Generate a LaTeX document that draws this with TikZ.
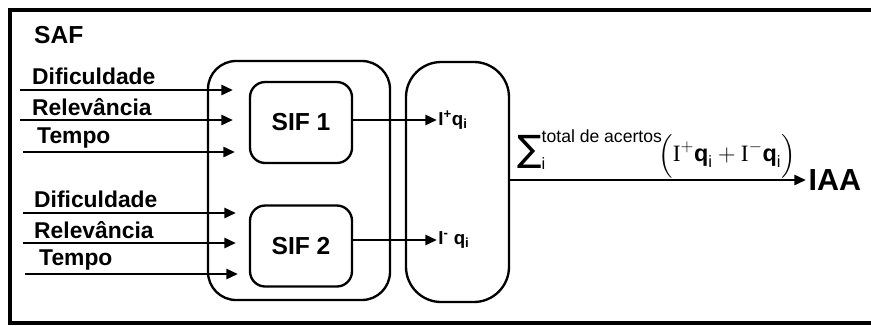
\documentclass[tikz,border=0pt]{standalone}
\usepackage{fontspec}
\setmainfont{Liberation Sans}
\newfontfamily\symbfont{DejaVu Sans}
\newfontfamily\serifI{Liberation Serif}
\usepackage{amsmath}
\usetikzlibrary{arrows.meta, positioning}

\begin{document}
\begin{tikzpicture}[x=0.03cm, y=-0.03cm,
  saframe/.style={line width=2.8pt},
  inarrow/.style={line width=2.4pt, -{Triangle[length=10pt, width=8.5pt]}},
  inlabel/.style={anchor=west, inner sep=0pt, font=\fontsize{19.5}{21}\selectfont\bfseries},
  sifbox/.style={draw, line width=2pt, rounded corners=13pt, minimum width=3.06cm, minimum height=2.43cm, font=\fontsize{21}{24}\selectfont\bfseries},
  sifgroup/.style={draw, line width=2pt, rounded corners=24pt, minimum width=5.46cm, minimum height=7.17cm},
  accbox/.style={draw, line width=2pt, rounded corners=30pt, minimum width=3.09cm, minimum height=7.2cm},
  qlabel/.style={anchor=west, inner sep=1pt, font=\fontsize{16}{17}\selectfont\bfseries}
]
  \useasboundingbox (0,0) rectangle (871,325);
  % moldura do SAF (aberta a direita)
  \draw[saframe] (880,10) -- (10,10) -- (10,323) -- (880,323);
  \node[anchor=west, inner sep=0pt, font=\fontsize{21}{24}\selectfont\bfseries] (saf) at (34,35) {SAF};

  \node[sifgroup] (grp) at (299,180.5) {};
  \node[accbox] (acc) at (457.5,182) {};
  \node[sifbox] (sif1) at (301,122.5) {SIF 1};
  \node[sifbox] (sif2) at (301,246) {SIF 2};

  % entradas do SIF 1
  \node[inlabel] (dif1) at (32,76) {Dificuldade};
  \node[inlabel] (rel1) at (32,107) {Relevância};
  \node[inlabel] (tmp1) at (37,138) {Tempo};
  \coordinate (a1) at (20,90);  \coordinate (b1) at (233,90);
  \coordinate (a2) at (20,120); \coordinate (b2) at (233,120);
  \coordinate (a3) at (23,152); \coordinate (b3) at (235,152);
  \draw[inarrow] (a1) -- (b1);
  \draw[inarrow] (a2) -- (b2);
  \draw[inarrow] (a3) -- (b3);

  % entradas do SIF 2
  \node[inlabel] (dif2) at (34,199) {Dificuldade};
  \node[inlabel] (rel2) at (34,230) {Relevância};
  \node[inlabel] (tmp2) at (39,260) {Tempo};
  \coordinate (a4) at (23,213); \coordinate (b4) at (236,213);
  \coordinate (a5) at (23,243); \coordinate (b5) at (236,243);
  \coordinate (a6) at (25,274); \coordinate (b6) at (238,274);
  \draw[inarrow] (a4) -- (b4);
  \draw[inarrow] (a5) -- (b5);
  \draw[inarrow] (a6) -- (b6);

  % saidas
  \node[qlabel] (qp) at (437,120) {I\textsuperscript{+}q\textsubscript{i}};
  \node[qlabel] (qm) at (437,240) {I\textsuperscript{-} q\textsubscript{i}};
  \draw[inarrow] (sif1.east |- qp) -- (qp.west);
  \draw[inarrow] (sif2.east |- qm) -- (qm.west);

  \node[anchor=west, inner sep=2pt, font=\fontsize{26}{28}\selectfont\bfseries] (iaa) at (806,180) {IAA};
  \draw[inarrow] (acc.east |- iaa) -- (iaa.west);
  \node[anchor=south west, inner sep=0pt, font=\fontsize{20}{22}\selectfont] (soma) at (517,178)
    {$\displaystyle\text{\symbfont\fontsize{31}{31}\selectfont ∑}_{\text{i}}^{\text{\fontsize{15}{15}\selectfont total de acertos}}\!\Big(\text{\serifI I}^{+}\text{\bfseries q}_{\text{i}} + \text{\serifI I}^{-}\text{\bfseries q}_{\text{i}}\Big)$};
\end{tikzpicture}
\end{document}
